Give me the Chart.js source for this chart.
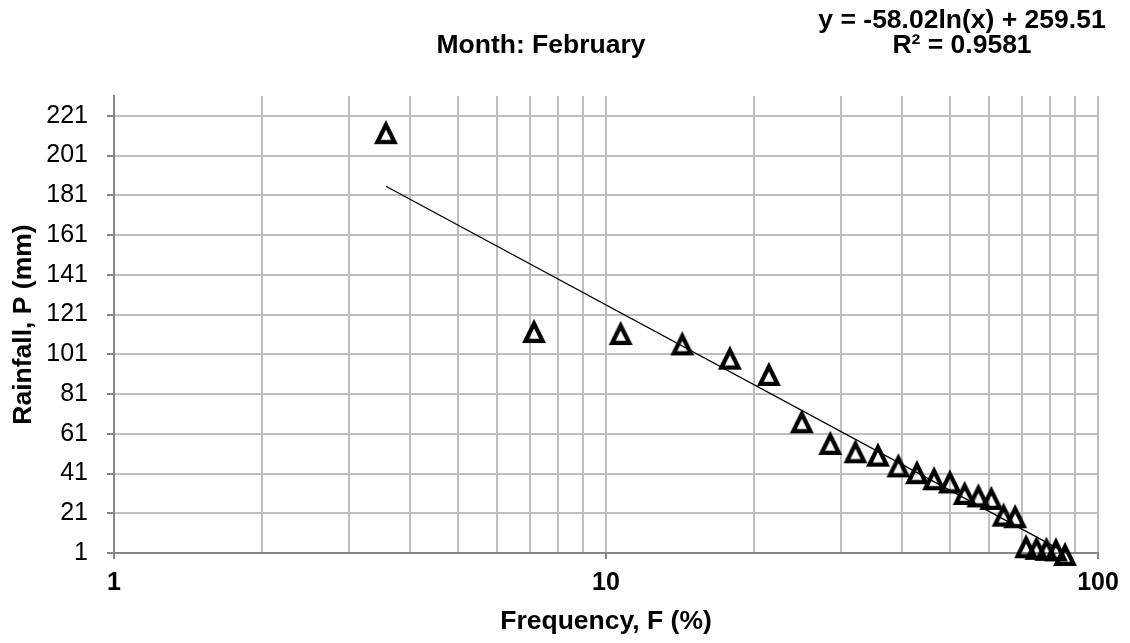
<!DOCTYPE html>
<html>
<head>
<meta charset="utf-8">
<script src="https://cdn.jsdelivr.net/npm/chart.js@4.4.1/dist/chart.umd.min.js"></script>
<style>
  html, body { margin: 0; padding: 0; background: #ffffff; }
  #wrap { width: 1130px; height: 643px; position: relative; }
</style>
</head>
<body>
<div id="wrap"><canvas id="c"></canvas></div>
<script>
// ---- data ----
const frequency = [3.57, 7.14, 10.71, 14.29, 17.86, 21.43, 25.00, 28.57, 32.14, 35.71, 39.29, 42.86,
                   46.43, 50.00, 53.57, 57.14, 60.71, 64.29, 67.86, 71.43, 75.00, 78.57, 82.14, 85.71];
const rainfall  = [212.8, 112.7, 111.7, 106.5, 99.3, 91.1, 67.3, 56.4, 52.2, 50.5, 45.1, 41.7,
                   38.6, 37.0, 31.2, 30.0, 28.7, 20.3, 19.5, 4.4, 3.6, 3.1, 2.8, 0.5];
const trendFrequency = [3.57, 85.71];
const trendRainfall  = [185.6, 1.3];
const xGridValues = [1, 2, 3, 4, 5, 6, 7, 8, 9, 10, 20, 30, 40, 50, 60, 70, 80, 90, 100];
const xTickLabels = [1, 10, 100];
const yTickValues = [1, 21, 41, 61, 81, 101, 121, 141, 161, 181, 201, 221];
const chartTitle = 'Month: February';
const equationLines = ['y = -58.02ln(x) + 259.51', 'R² = 0.9581'];
const xAxisTitle = 'Frequency, F (%)';
const yAxisTitle = 'Rainfall, P (mm)';

const FONT = "'Liberation Sans', Arial, sans-serif";

function triangleMarker() {
  const c = document.createElement('canvas');
  c.width = 34; c.height = 34;
  const g = c.getContext('2d');
  g.lineWidth = 4.3;
  g.lineJoin = 'miter';
  g.strokeStyle = '#000000';
  g.beginPath();
  g.moveTo(17, 9.6);
  g.lineTo(25.5, 26.8);
  g.lineTo(8.5, 26.8);
  g.closePath();
  g.stroke();
  return c;
}

const textPlugin = {
  id: 'texts',
  afterDraw(chart) {
    const ctx = chart.ctx;
    ctx.save();
    ctx.fillStyle = '#000000';
    ctx.textAlign = 'center';
    ctx.textBaseline = 'middle';
    ctx.font = 'bold 26.5px ' + FONT;
    ctx.fillText(chartTitle, 541, 46);
    ctx.fillText(equationLines[0], 962, 21);
    ctx.fillText(equationLines[1], 962, 46);
    ctx.restore();
  }
};

const marker = triangleMarker();

new Chart(document.getElementById('c'), {
  type: 'scatter',
  data: {
    datasets: [
      {
        label: 'Rainfall',
        data: frequency.map((f, i) => ({ x: f, y: rainfall[i] })),
        pointStyle: marker,
        pointRadius: 13,
        pointHoverRadius: 13,
        clip: false
      },
      {
        label: 'Trend',
        data: trendFrequency.map((f, i) => ({ x: f, y: trendRainfall[i] })),
        showLine: true,
        pointRadius: 0,
        borderColor: '#000000',
        borderWidth: 1.3,
        fill: false
      }
    ]
  },
  options: {
    responsive: true,
    maintainAspectRatio: false,
    animation: false,
    layout: { padding: { left: 0, right: 32, top: 96, bottom: 0 } },
    plugins: { legend: { display: false }, tooltip: { enabled: false }, title: { display: false } },
    scales: {
      x: {
        type: 'logarithmic',
        min: 1, max: 100,
        afterBuildTicks: s => { s.ticks = xGridValues.map(v => ({ value: v })); },
        afterFit: s => { s.height = 90; },
        ticks: {
          autoSkip: false, maxRotation: 0, minRotation: 0,
          font: { family: FONT, size: 25, weight: 'bold' },
          color: '#000000',
          padding: 9,
          callback: v => xTickLabels.includes(v) ? String(v) : ''
        },
        grid: {
          color: '#bfbfbf', lineWidth: 2, tickLength: 6,
          tickColor: c => (c.tick && xTickLabels.includes(c.tick.value)) ? '#868686' : 'rgba(0,0,0,0)'
        },
        border: { color: '#868686', width: 2 },
        title: {
          display: true, text: xAxisTitle, color: '#000000',
          font: { family: FONT, size: 26.5, weight: 'bold' },
          padding: { top: 0, bottom: 5 }
        }
      },
      y: {
        type: 'linear',
        min: 1, max: 231,
        afterBuildTicks: s => { s.ticks = yTickValues.map(v => ({ value: v })); },
        afterFit: s => { s.width = 114; },
        ticks: {
          autoSkip: false,
          font: { family: FONT, size: 25 },
          color: '#000000',
          padding: 19
        },
        grid: { color: '#bfbfbf', lineWidth: 2, tickLength: 7, tickColor: '#868686' },
        border: { color: '#868686', width: 2 },
        title: {
          display: true, text: yAxisTitle, color: '#000000',
          font: { family: FONT, size: 26.5, weight: 'bold' },
          padding: { top: 8, bottom: 0 }
        }
      }
    }
  },
  plugins: [textPlugin]
});
</script>
</body>
</html>
